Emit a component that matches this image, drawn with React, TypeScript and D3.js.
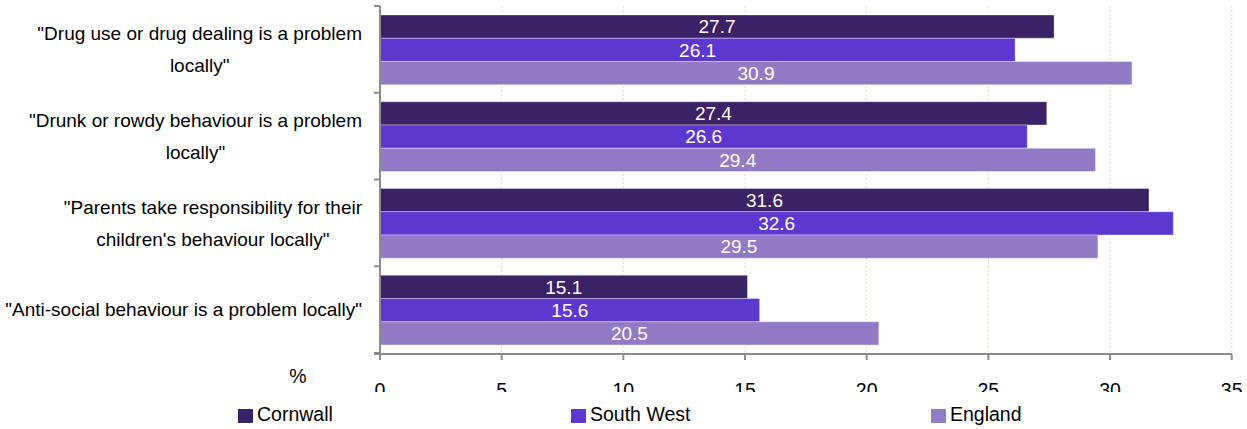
import React from "react";
import * as d3 from "d3";

const categories: string[][] = [
  ["\"Drug use or drug dealing is a problem", "locally\""],
  ["\"Drunk or rowdy behaviour is a problem", "locally\""],
  ["\"Parents take responsibility for their", "children's behaviour locally\""],
  ["\"Anti-social behaviour is a problem locally\""],
];
const seriesNames = ["Cornwall", "South West", "England"];
const cornwall = [27.7, 27.4, 31.6, 15.1];
const southWest = [26.1, 26.6, 32.6, 15.6];
const england = [30.9, 29.4, 29.5, 20.5];
const xTicks = [0, 5, 10, 15, 20, 25, 30, 35];
const colors = ["#3b2166", "#5c38d0", "#917ac6"];

const W = 1247;
const H = 429;
const FONT = "'Liberation Sans', Arial, sans-serif";

let ctx: CanvasRenderingContext2D | null = null;
function measure(t: string, size: number) {
  if (!ctx) ctx = document.createElement("canvas").getContext("2d");
  if (!ctx) return t.length * size * 0.5;
  ctx.font = `${size}px ${FONT}`;
  return ctx.measureText(t).width;
}

export default function App() {
  const series = [cornwall, southWest, england];
  const x = d3.scaleLinear().domain([0, 35]).range([380, 1231.7]);
  const catIdx = categories.map((_, i) => String(i));
  const y = d3.scaleBand().domain(catIdx).range([6, 353]).padding(0);
  const inner = d3
    .scaleBand()
    .domain(seriesNames)
    .range([9, y.bandwidth() - 8])
    .padding(0);

  const labelSize = 19;
  const labelRight = 362;

  return (
    <svg width={W} height={H} style={{ position: "absolute", left: 0, top: 0, display: "block" }} fontFamily={FONT}>
      <rect x={0} y={0} width={W} height={H} fill="#fff" />
      {/* gridlines */}
      {xTicks.filter((t) => t > 0).map((t) => (
        <line key={"g" + t} x1={x(t)} x2={x(t)} y1={6} y2={354} stroke="#dcd8c0" strokeWidth={1} strokeDasharray="2,2" />
      ))}
      {/* bars */}
      {categories.map((_, ci) =>
        series.map((vals, si) => {
          const y0 = (y(String(ci)) as number) + (inner(seriesNames[si]) as number);
          const bh = inner.bandwidth();
          const v = vals[ci];
          return (
            <g key={`b${ci}-${si}`}>
              <rect x={x(0)} y={y0} width={x(v) - x(0)} height={bh} fill={colors[si]} stroke="rgba(255,255,255,0.35)" strokeWidth={1} />
              <text x={(x(0) + x(v)) / 2} y={y0 + bh / 2} dy="0.36em" textAnchor="middle" fill="#fff" fontSize={19}>
                {v.toFixed(1)}
              </text>
            </g>
          );
        })
      )}
      {/* y axis */}
      <line x1={380} x2={380} y1={6} y2={354} stroke="#8c8c8c" strokeWidth={2} />
      {[0, 1, 2, 3, 4].map((i) => {
        const yy = 6 + i * y.bandwidth();
        return <line key={"yt" + i} x1={374} x2={380} y1={yy} y2={yy} stroke="#8c8c8c" strokeWidth={2} />;
      })}
      {/* x axis */}
      <line x1={374} x2={1232} y1={354} y2={354} stroke="#8c8c8c" strokeWidth={2} />
      {xTicks.map((t) => (
        <line key={"xt" + t} x1={x(t)} x2={x(t)} y1={354} y2={360} stroke="#8c8c8c" strokeWidth={2} />
      ))}
      {xTicks.map((t) => (
        <text key={"xl" + t} x={x(t)} y={397} textAnchor="middle" fontSize={19.5} fill="#000">
          {t}
        </text>
      ))}
      <text x={298} y={383} textAnchor="middle" fontSize={19.5} fill="#000">%</text>
      {/* category labels */}
      {categories.map((lines, ci) => {
        const bw = Math.max(...lines.map((l) => measure(l, labelSize)));
        const cx = labelRight - bw / 2;
        const cy = (y(String(ci)) as number) + y.bandwidth() / 2;
        const lh = 32;
        return (
          <text key={"c" + ci} fontSize={labelSize} textAnchor="middle" fill="#000">
            {lines.map((l, li) => (
              <tspan key={li} x={cx} y={cy + (li - (lines.length - 1) / 2) * lh} dy="0.36em">
                {l}
              </tspan>
            ))}
          </text>
        );
      })}
      {/* legend background clipping tick labels */}
      <rect x={0} y={392} width={W} height={H - 392} fill="#fff" />
      {seriesNames.map((n, i) => {
        const lx = [238, 571, 931][i];
        return (
          <g key={"l" + i}>
            <rect x={lx} y={409} width={15} height={14} fill={colors[i]} />
            <text x={lx + 19} y={421} fontSize={19.5} fill="#000">{n}</text>
          </g>
        );
      })}
    </svg>
  );
}
